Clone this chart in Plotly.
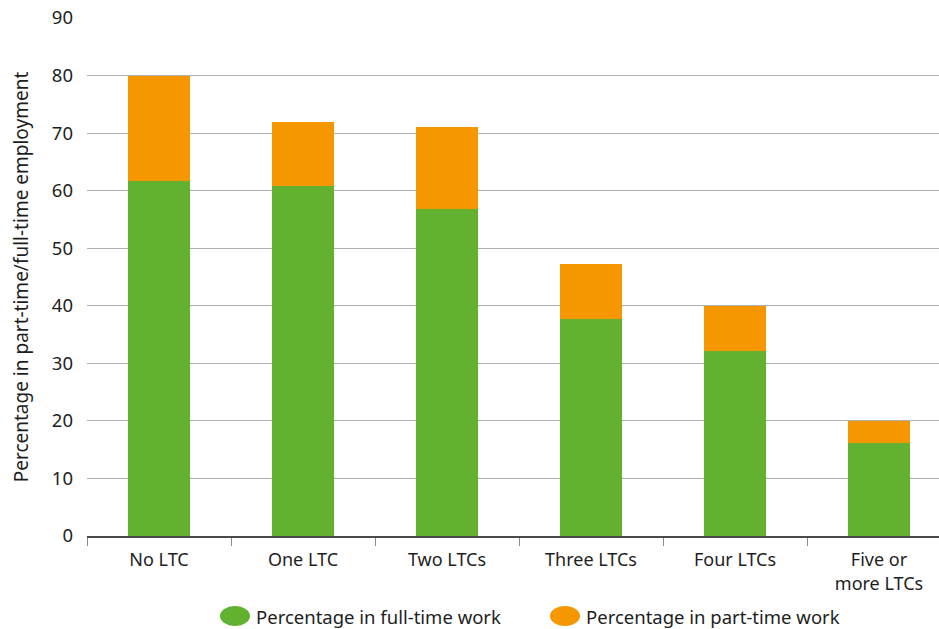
import plotly.graph_objects as go

categories = ["No LTC", "One LTC", "Two LTCs", "Three LTCs", "Four LTCs", "Five or<br>more LTCs"]
full_time = [61.7, 60.8, 56.8, 37.7, 32.1, 16.2]
total_employed = [80.0, 72.0, 71.0, 47.3, 40.0, 20.0]
part_time = [round(t - f, 1) for t, f in zip(total_employed, full_time)]

series_names = ["Percentage in full-time work", "Percentage in part-time work"]
GREEN = "#63b22f"
ORANGE = "#f49700"
TEXT = "#1e1e1e"
FONT = "Noto Sans"

fig = go.Figure()
fig.add_trace(go.Bar(x=categories, y=full_time, name=series_names[0],
                     marker=dict(color=GREEN, line=dict(width=0)), showlegend=False))
fig.add_trace(go.Bar(x=categories, y=part_time, name=series_names[1],
                     marker=dict(color=ORANGE, line=dict(width=0)), showlegend=False))

# plot area geometry (pixels) used to place the hand-made legend
L, R, T, B = 87, 939, 18, 536
W, H = R - L, B - T

def px(x):
    return (x - L) / W

def py(y):
    return (B - y) / H

legend_items = [(220, GREEN, series_names[0]), (550, ORANGE, series_names[1])]
shapes = []
annotations = []
for x0, col, label in legend_items:
    shapes.append(dict(type="circle", xref="paper", yref="paper",
                       x0=px(x0), x1=px(x0 + 30), y0=py(606), y1=py(626),
                       fillcolor=col, line=dict(width=0)))
    annotations.append(dict(xref="paper", yref="paper", x=px(x0 + 34), y=py(616),
                            xanchor="left", yanchor="middle", text=label, showarrow=False,
                            font=dict(family=FONT, size=18.5, color=TEXT)))

fig.update_layout(
    width=939, height=629,
    margin=dict(l=L, r=939 - R, t=T, b=629 - B),
    barmode="stack",
    bargap=0.576,
    plot_bgcolor="white",
    paper_bgcolor="white",
    font=dict(family=FONT, size=18, color=TEXT),
    shapes=shapes,
    annotations=annotations,
    xaxis=dict(
        range=[-0.5, 5.5 - 12 / 144],
        tickson="boundaries",
        ticks="outside",
        ticklen=8,
        tickwidth=1,
        tickcolor="#8a8a8a",
        showline=True,
        linecolor="#4a4a4a",
        linewidth=1.5,
        showgrid=False,
        ticklabelstandoff=7,
        tickfont=dict(family=FONT, size=18, color=TEXT),
    ),
    yaxis=dict(
        range=[0, 90],
        dtick=10,
        showgrid=True,
        gridcolor="#b0b0b0",
        gridwidth=1.4,
        zeroline=False,
        ticks="",
        ticklabelstandoff=13,
        tickfont=dict(family=FONT, size=18.5, color=TEXT),
        title=dict(text="Percentage in part-time/full-time employment",
                   font=dict(family=FONT, size=19, color=TEXT), standoff=18),
    ),
)

fig.write_html("out.html")
